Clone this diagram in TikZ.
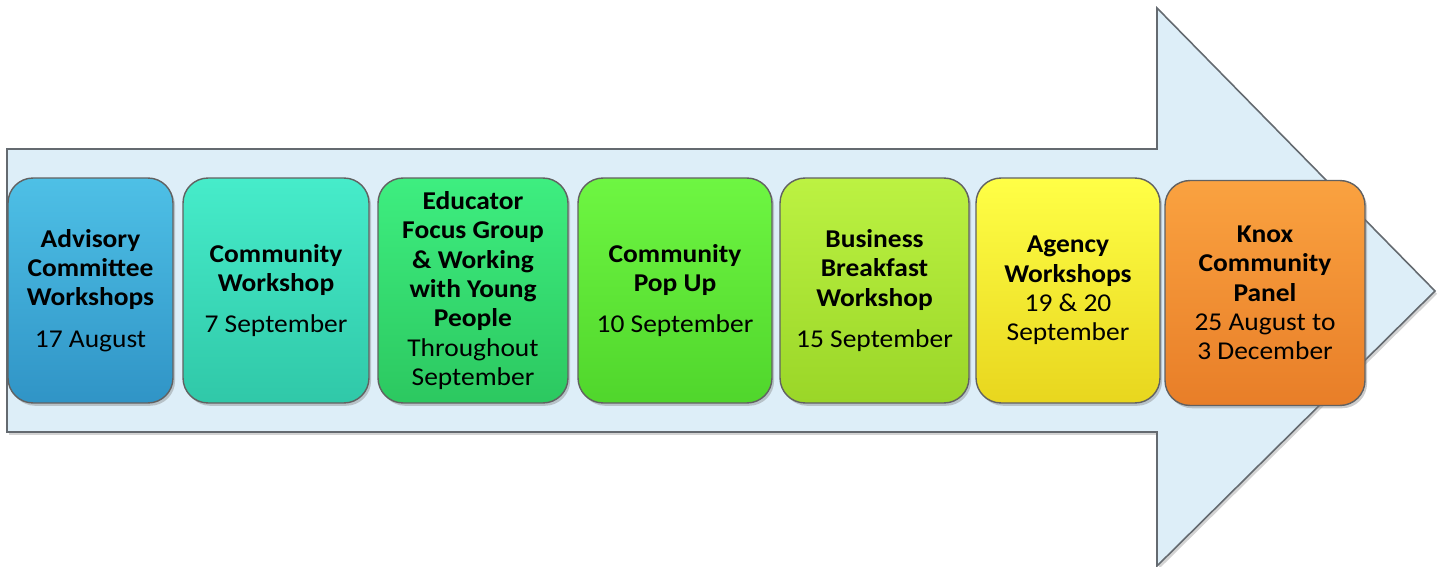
\documentclass[tikz,border=0pt]{standalone}
\usepackage{fontspec}
\setmainfont[FakeStretch=1.07]{Carlito}
\usetikzlibrary{shadows}

\definecolor{arrowfill}{RGB}{221,238,248}
\definecolor{arrowline}{RGB}{100,106,112}
\definecolor{blueTop}{RGB}{78,192,230}
\definecolor{blueBot}{RGB}{48,148,198}
\definecolor{tealTop}{RGB}{70,236,202}
\definecolor{tealBot}{RGB}{48,200,168}
\definecolor{greenTop}{RGB}{62,238,128}
\definecolor{greenBot}{RGB}{44,200,96}
\definecolor{limeTop}{RGB}{110,246,66}
\definecolor{limeBot}{RGB}{80,214,44}
\definecolor{yelgrTop}{RGB}{188,242,66}
\definecolor{yelgrBot}{RGB}{154,214,40}
\definecolor{yellowTop}{RGB}{255,255,70}
\definecolor{yellowBot}{RGB}{232,214,30}
\definecolor{orangeTop}{RGB}{250,162,64}
\definecolor{orangeBot}{RGB}{232,126,40}

\begin{document}
\begin{tikzpicture}[x=0.02cm, y=-0.02cm,
        stage/.style={rounded corners=0.5cm, draw=black!62, line width=0.8pt,
            minimum height=4.5cm, align=center, inner sep=2pt,
            font=\fontsize{14.6}{16.7}\selectfont, text=black,
            drop shadow={opacity=0.4, shadow xshift=1.2pt, shadow yshift=-1.6pt}}]
    \useasboundingbox (0,0) rectangle (1440,567);

    % big arrow
    \draw[fill=arrowfill, draw=arrowline, line width=0.9pt,
        drop shadow={opacity=0.35, shadow xshift=1.2pt, shadow yshift=-1.6pt}]
        (7,149) -- (1157,149) -- (1157,8) -- (1435,291) -- (1157,566)
        -- (1157,432) -- (7,432) -- cycle;

    % stages
    \node[stage, minimum width=3.3cm, top color=blueTop, bottom color=blueBot] (advisory) at (90.5,290.5)
        {\textbf{Advisory}\\\textbf{Committee}\\\textbf{Workshops}\\[6.8pt]17 August};
    \node[stage, minimum width=3.72cm, top color=tealTop, bottom color=tealBot] (community) at (276,290.5)
        {\textbf{Community}\\\textbf{Workshop}\\[6.8pt]7 September};
    \node[stage, minimum width=3.8cm, top color=greenTop, bottom color=greenBot] (educator) at (473,290.5)
        {\textbf{Educator}\\\textbf{Focus Group}\\\textbf{\& Working}\\\textbf{with Young}\\\textbf{People}\\Throughout\\September};
    \node[stage, minimum width=3.88cm, top color=limeTop, bottom color=limeBot] (popup) at (675,290.5)
        {\textbf{Community}\\\textbf{Pop Up}\\[6.8pt]10 September};
    \node[stage, minimum width=3.78cm, top color=yelgrTop, bottom color=yelgrBot] (breakfast) at (874.5,290.5)
        {\textbf{Business}\\\textbf{Breakfast}\\\textbf{Workshop}\\[6.8pt]15 September};
    \node[stage, minimum width=3.68cm, top color=yellowTop, bottom color=yellowBot] (agency) at (1068,290.5)
        {\textbf{Agency}\\\textbf{Workshops}\\19 \& 20\\September};
    \node[stage, minimum width=4.0cm, top color=orangeTop, bottom color=orangeBot] (panel) at (1265,293)
        {\textbf{Knox}\\\textbf{Community}\\\textbf{Panel}\\25 August to\\3 December};
\end{tikzpicture}
\end{document}
